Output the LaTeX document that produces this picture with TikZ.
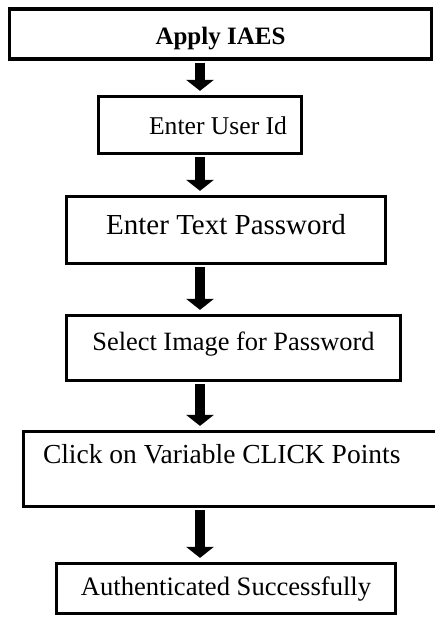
\documentclass[tikz,border=0pt]{standalone}
\usepackage{fontspec}
\setmainfont{Liberation Serif}
\usetikzlibrary{arrows.meta}

\begin{document}
\begin{tikzpicture}[x=1pt, y=-1pt,
    stepbox/.style={rectangle, draw, line width=3.2pt, inner sep=0pt,
        text height=18pt, text depth=5pt, font=\fontsize{26}{30}\selectfont},
    flow/.style={line width=10pt, shorten <=2pt, shorten >=4pt,
        -{Triangle[width=27pt, length=11pt]}}
]
\useasboundingbox (0,0) rectangle (435,617);
% Steps
\node[stepbox, minimum width=422pt, minimum height=50pt, text height=27pt,
    font=\fontsize{25}{30}\selectfont\bfseries] (apply) at (220.5, 34) {Apply IAES};
\node[stepbox, minimum width=203pt, minimum height=57pt, text height=25pt,
    text width=174pt, align=flush right, font=\fontsize{25.6}{30}\selectfont] (userid) at (200, 125) {Enter User Id};
\node[stepbox, minimum width=319pt, minimum height=67pt, text height=20pt, text depth=10pt,
    font=\fontsize{29}{34}\selectfont] (textpw) at (226, 230) {Enter Text Password};
\node[stepbox, minimum width=334pt, minimum height=65pt, text depth=14pt,
    font=\fontsize{26.4}{30}\selectfont] (image) at (233.5, 348) {Select Image for Password};
\node[stepbox, minimum width=423pt, minimum height=75pt, text height=19pt, text depth=31pt,
    text width=384pt, align=flush left, font=\fontsize{27.5}{32}\selectfont] (click) at (235, 469) {Click on Variable CLICK Points};
\node[stepbox, minimum width=339pt, minimum height=50pt,
    font=\fontsize{26.6}{30}\selectfont] (auth) at (226, 588.5) {Authenticated Successfully};

% Arrows
\coordinate (axis) at (200, 0);
\draw[flow] (apply.south -| axis) -- (userid.north -| axis);
\draw[flow] (userid.south -| axis) -- (textpw.north -| axis);
\draw[flow] (textpw.south -| axis) -- (image.north -| axis);
\draw[flow] (image.south -| axis) -- (click.north -| axis);
\draw[flow] (click.south -| axis) -- (auth.north -| axis);
\end{tikzpicture}
\end{document}
